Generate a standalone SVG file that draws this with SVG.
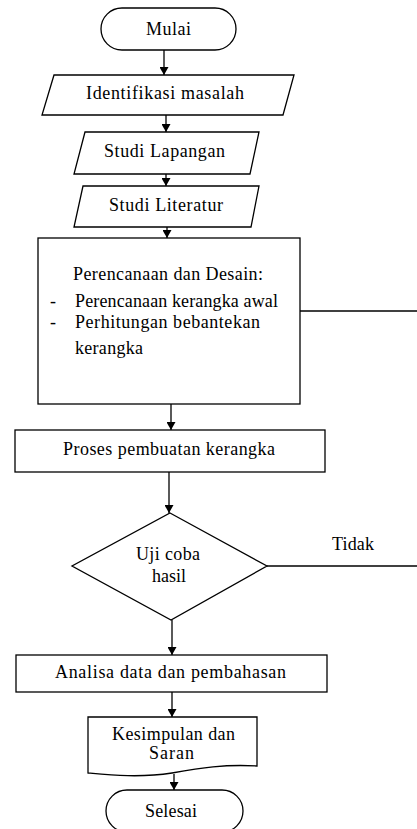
<svg xmlns="http://www.w3.org/2000/svg" width="417" height="829" viewBox="0 0 417 829">
<defs>
<marker id="ah" markerUnits="userSpaceOnUse" markerWidth="8" markerHeight="9" refX="8" refY="4.5" orient="auto">
<path d="M0,0 L8,4.5 L0,9 z" fill="#000"/>
</marker>
<style>
.s{fill:#fff;stroke:#000;stroke-width:1.3}
.t{font-family:'Liberation Serif','Times New Roman',serif;font-size:18px;fill:#000}
.l{stroke:#000;stroke-width:1.3;fill:none}
.a{stroke:#000;stroke-width:1.3;fill:none;marker-end:url(#ah)}
</style>
</defs>
<rect width="417" height="829" fill="#fff"/>
<g id="connectors">
<line class="a" x1="164" y1="50" x2="164" y2="75"/>
<line class="a" x1="166" y1="115" x2="166" y2="132"/>
<line class="a" x1="166" y1="174" x2="166" y2="186"/>
<line class="a" x1="167" y1="227" x2="167" y2="238"/>
<line class="a" x1="171" y1="404" x2="171" y2="430"/>
<line class="a" x1="169" y1="472" x2="169" y2="513"/>
<line class="a" x1="172" y1="620" x2="172" y2="655"/>
<line class="a" x1="172" y1="692" x2="172" y2="717"/>
<line class="a" x1="174" y1="774" x2="174" y2="790"/>
<line class="l" x1="300" y1="311" x2="417" y2="311"/>
<line class="l" x1="267" y1="566" x2="417" y2="566"/>
<text class="t" x="332" y="550" textLength="42" lengthAdjust="spacing">Tidak</text>
</g>
<g id="mulai">
<rect class="s" x="101" y="8" width="135" height="42" rx="21" ry="21"/>
<text class="t" x="146" y="35" textLength="45" lengthAdjust="spacing">Mulai</text>
</g>
<g id="identifikasi">
<polygon class="s" points="54,75 294,75 283,115 42,115"/>
<text class="t" x="86" y="99" textLength="158" lengthAdjust="spacing">Identifikasi masalah</text>
</g>
<g id="studi-lapangan">
<polygon class="s" points="85,132 259,132 250,174 74,174"/>
<text class="t" x="104" y="157" textLength="121" lengthAdjust="spacing">Studi Lapangan</text>
</g>
<g id="studi-literatur">
<polygon class="s" points="83,186 259,186 251,227 74,227"/>
<text class="t" x="109" y="211" textLength="114" lengthAdjust="spacing">Studi Literatur</text>
</g>
<g id="perencanaan">
<rect class="s" x="38" y="238" width="262" height="166"/>
<text class="t" x="73" y="280" textLength="190" lengthAdjust="spacing">Perencanaan dan Desain:</text>
<text class="t" x="50" y="307">-</text>
<text class="t" x="75" y="307" textLength="203" lengthAdjust="spacing">Perencanaan kerangka awal</text>
<text class="t" x="50" y="328">-</text>
<text class="t" x="75" y="328" textLength="185" lengthAdjust="spacing">Perhitungan bebantekan</text>
<text class="t" x="75" y="354" textLength="68" lengthAdjust="spacing">kerangka</text>
</g>
<g id="proses">
<rect class="s" x="15" y="430" width="310" height="42"/>
<text class="t" x="63" y="455" textLength="212" lengthAdjust="spacing">Proses pembuatan kerangka</text>
</g>
<g id="uji">
<polygon class="s" points="170,513 267,566 171,620 72,566"/>
<text class="t" x="136" y="560" textLength="64" lengthAdjust="spacing">Uji coba</text>
<text class="t" x="152" y="582" textLength="34" lengthAdjust="spacing">hasil</text>
</g>
<g id="analisa">
<rect class="s" x="16" y="655" width="311" height="37"/>
<text class="t" x="55" y="678" textLength="231" lengthAdjust="spacing">Analisa data dan pembahasan</text>
</g>
<g id="kesimpulan">
<path class="s" d="M88,717 H257 V766 C225,764 200,768 172,773 C140,778 110,775 88,773 Z"/>
<text class="t" x="112" y="740" textLength="123" lengthAdjust="spacing">Kesimpulan dan</text>
<text class="t" x="149" y="759" textLength="45" lengthAdjust="spacing">Saran</text>
</g>
<g id="selesai">
<rect class="s" x="106" y="790" width="137" height="42" rx="21" ry="21"/>
<text class="t" x="145" y="817" textLength="52" lengthAdjust="spacing">Selesai</text>
</g>
</svg>
